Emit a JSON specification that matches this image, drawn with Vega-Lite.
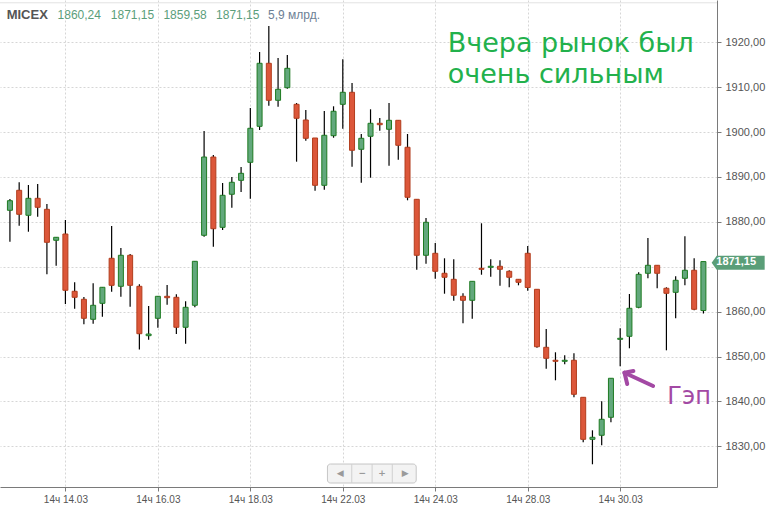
{
  "$schema": "https://vega.github.io/schema/vega-lite/v6.json",
  "autosize": "none",
  "width": 717,
  "height": 487,
  "padding": {"left": 0, "top": 0, "right": 53, "bottom": 20},
  "background": "white",
  "config": {"view": {"stroke": null}},
  "datasets": {
    "candles": [
      {"i":0,"o":1882.57,"h":1885.09,"l":1875.58,"c":1884.71},
      {"i":1,"o":1887.03,"h":1888.81,"l":1879.14,"c":1881.68},
      {"i":2,"o":1881.46,"h":1888.21,"l":1877.80,"c":1885.24},
      {"i":3,"o":1885.24,"h":1888.43,"l":1881.15,"c":1883.24},
      {"i":4,"o":1882.79,"h":1883.97,"l":1868.31,"c":1875.44},
      {"i":5,"o":1875.89,"h":1876.63,"l":1870.23,"c":1876.56},
      {"i":6,"o":1877.29,"h":1880.41,"l":1861.70,"c":1864.75},
      {"i":7,"o":1864.53,"h":1866.53,"l":1860.65,"c":1863.19},
      {"i":8,"o":1862.75,"h":1863.26,"l":1857.17,"c":1858.51},
      {"i":9,"o":1858.29,"h":1866.31,"l":1857.31,"c":1861.41},
      {"i":10,"o":1861.85,"h":1865.49,"l":1858.87,"c":1865.42},
      {"i":11,"o":1871.88,"h":1879.07,"l":1864.44,"c":1865.86},
      {"i":12,"o":1865.64,"h":1874.17,"l":1863.32,"c":1872.55},
      {"i":13,"o":1872.55,"h":1872.84,"l":1861.10,"c":1865.86},
      {"i":14,"o":1865.64,"h":1866.09,"l":1851.56,"c":1855.08},
      {"i":15,"o":1854.64,"h":1861.25,"l":1853.75,"c":1855.01},
      {"i":16,"o":1858.51,"h":1863.48,"l":1856.42,"c":1863.41},
      {"i":17,"o":1863.41,"h":1865.93,"l":1861.54,"c":1863.10},
      {"i":18,"o":1863.19,"h":1863.86,"l":1855.01,"c":1856.51},
      {"i":19,"o":1856.51,"h":1862.30,"l":1852.85,"c":1860.96},
      {"i":20,"o":1861.41,"h":1871.28,"l":1860.96,"c":1871.21},
      {"i":21,"o":1877.00,"h":1900.24,"l":1876.69,"c":1894.44},
      {"i":22,"o":1894.44,"h":1894.89,"l":1874.46,"c":1878.47},
      {"i":23,"o":1878.78,"h":1888.65,"l":1878.18,"c":1885.91},
      {"i":24,"o":1886.14,"h":1889.99,"l":1883.15,"c":1888.81},
      {"i":25,"o":1889.25,"h":1892.22,"l":1886.65,"c":1890.81},
      {"i":26,"o":1893.26,"h":1905.36,"l":1885.16,"c":1900.84},
      {"i":27,"o":1901.28,"h":1917.84,"l":1900.46,"c":1915.32},
      {"i":28,"o":1915.32,"h":1923.63,"l":1905.87,"c":1907.08},
      {"i":29,"o":1907.08,"h":1916.50,"l":1905.65,"c":1909.53},
      {"i":30,"o":1909.88,"h":1917.17,"l":1909.66,"c":1914.20},
      {"i":31,"o":1906.18,"h":1906.47,"l":1893.40,"c":1903.07},
      {"i":32,"o":1902.69,"h":1904.92,"l":1898.08,"c":1898.61},
      {"i":33,"o":1898.68,"h":1898.68,"l":1886.94,"c":1888.14},
      {"i":34,"o":1888.14,"h":1904.69,"l":1887.16,"c":1899.28},
      {"i":35,"o":1899.19,"h":1905.74,"l":1898.74,"c":1904.63},
      {"i":36,"o":1906.18,"h":1916.21,"l":1900.75,"c":1908.86},
      {"i":37,"o":1908.86,"h":1910.93,"l":1892.28,"c":1895.94},
      {"i":38,"o":1896.16,"h":1899.57,"l":1888.72,"c":1898.61},
      {"i":39,"o":1899.06,"h":1905.07,"l":1889.83,"c":1901.95},
      {"i":40,"o":1901.95,"h":1903.13,"l":1900.30,"c":1901.64},
      {"i":41,"o":1900.62,"h":1906.47,"l":1892.51,"c":1902.62},
      {"i":42,"o":1902.62,"h":1902.62,"l":1893.84,"c":1897.05},
      {"i":43,"o":1896.61,"h":1899.57,"l":1884.80,"c":1885.47},
      {"i":44,"o":1885.02,"h":1885.02,"l":1869.34,"c":1872.55},
      {"i":45,"o":1872.55,"h":1880.86,"l":1870.68,"c":1879.90},
      {"i":46,"o":1872.99,"h":1875.29,"l":1867.33,"c":1868.98},
      {"i":47,"o":1868.54,"h":1871.88,"l":1863.99,"c":1867.65},
      {"i":48,"o":1867.20,"h":1871.66,"l":1862.43,"c":1863.64},
      {"i":49,"o":1863.41,"h":1864.08,"l":1857.40,"c":1862.52},
      {"i":50,"o":1862.52,"h":1866.75,"l":1858.42,"c":1866.75},
      {"i":51,"o":1869.65,"h":1879.68,"l":1868.22,"c":1869.43},
      {"i":52,"o":1869.87,"h":1871.66,"l":1867.78,"c":1870.10},
      {"i":53,"o":1870.10,"h":1871.43,"l":1865.77,"c":1869.43},
      {"i":54,"o":1868.98,"h":1869.21,"l":1865.42,"c":1867.65},
      {"i":55,"o":1867.20,"h":1867.20,"l":1865.86,"c":1866.53},
      {"i":56,"o":1872.99,"h":1874.62,"l":1864.66,"c":1865.37},
      {"i":57,"o":1864.97,"h":1864.97,"l":1851.96,"c":1852.18},
      {"i":58,"o":1852.05,"h":1856.13,"l":1847.28,"c":1849.60},
      {"i":59,"o":1849.16,"h":1850.94,"l":1844.70,"c":1848.93},
      {"i":60,"o":1848.93,"h":1850.27,"l":1848.26,"c":1849.16},
      {"i":61,"o":1849.16,"h":1850.72,"l":1840.91,"c":1841.58},
      {"i":62,"o":1840.91,"h":1840.91,"l":1830.89,"c":1831.55},
      {"i":63,"o":1831.55,"h":1833.56,"l":1825.99,"c":1832.00},
      {"i":64,"o":1832.45,"h":1840.02,"l":1830.22,"c":1836.01},
      {"i":65,"o":1836.46,"h":1845.15,"l":1835.34,"c":1845.15},
      {"i":66,"o":1853.83,"h":1856.28,"l":1847.82,"c":1854.06},
      {"i":67,"o":1854.50,"h":1863.93,"l":1851.83,"c":1860.74},
      {"i":68,"o":1860.96,"h":1868.76,"l":1860.74,"c":1868.31},
      {"i":69,"o":1868.54,"h":1876.40,"l":1867.42,"c":1870.32},
      {"i":70,"o":1870.32,"h":1870.32,"l":1865.20,"c":1868.54},
      {"i":71,"o":1865.20,"h":1865.42,"l":1851.38,"c":1864.08},
      {"i":72,"o":1864.30,"h":1867.87,"l":1858.51,"c":1866.98},
      {"i":73,"o":1867.42,"h":1876.78,"l":1865.86,"c":1869.21},
      {"i":74,"o":1869.21,"h":1871.88,"l":1860.29,"c":1860.52},
      {"i":75,"o":1860.24,"h":1871.15,"l":1859.58,"c":1871.15}
    ]
  },
  "layer": [
    {
      "data": {"name": "candles"},
      "mark": {"type": "rule", "color": "#000000", "strokeWidth": 1.2},
      "encoding": {
        "x": {
          "field": "i", "type": "quantitative",
          "scale": {"domain": [-0.533, 75.93], "nice": false, "zero": false},
          "axis": {
            "orient": "bottom", "title": null,
            "values": [6, 16, 26, 36, 46, 56, 66],
            "labelExpr": "['14ч 14.03','14ч 16.03','14ч 18.03','14ч 22.03','14ч 24.03','14ч 28.03','14ч 30.03'][round((datum.value-6)/10)]",
            "labelFont": "Liberation Sans", "labelFontSize": 10, "labelColor": "#555555",
            "labelPadding": 3, "tickSize": 4, "tickColor": "#7a7a7a", "domainColor": "#7a7a7a",
            "grid": true, "gridColor": "#d6d6d6", "gridDash": [2, 2], "labelFlush": false
          }
        },
        "y": {
          "field": "l", "type": "quantitative",
          "scale": {"domain": [1820.93, 1929.42], "nice": false, "zero": false},
          "axis": {
            "orient": "right", "title": null,
            "values": [1830, 1840, 1850, 1860, 1870, 1880, 1890, 1900, 1910, 1920],
            "labelExpr": "datum.value == 1870 ? '' : replace(format(datum.value, '.2f'), '.', ',')",
            "labelFont": "Liberation Sans", "labelFontSize": 11, "labelColor": "#555555",
            "labelPadding": 4, "tickSize": 4, "tickColor": "#7a7a7a", "domainColor": "#7a7a7a",
            "grid": true, "gridColor": "#d6d6d6", "gridDash": [2, 2], "labelFlush": false
          }
        },
        "y2": {"field": "h"}
      }
    },
    {
      "data": {"values": [{"v": 1928.8}]},
      "mark": {"type": "rule", "color": "#e2e2e2", "strokeWidth": 1},
      "encoding": {
        "y": {"field": "v", "type": "quantitative", "scale": {"domain": [1820.93, 1929.42], "nice": false, "zero": false}, "axis": {"title": null}}
      }
    },
    {
      "data": {"name": "candles"},
      "mark": {"type": "bar", "size": 5, "strokeWidth": 1},
      "encoding": {
        "x": {"field": "i", "type": "quantitative", "scale": {"domain": [-0.533, 75.93], "nice": false, "zero": false}, "axis": {"title": null}},
        "y": {"field": "o", "type": "quantitative", "scale": {"domain": [1820.93, 1929.42], "nice": false, "zero": false}, "axis": {"title": null}},
        "y2": {"field": "c"},
        "fill": {"condition": {"test": "datum.c >= datum.o", "value": "#62a87c"}, "value": "#dc573a"},
        "stroke": {"condition": {"test": "datum.c >= datum.o", "value": "#1e7b22"}, "value": "#b23d1d"}
      }
    },
    {
      "data": {"values": [
        {"i": 47.35, "v": 1917.9, "t": "Вчера рынок был"},
        {"i": 47.35, "v": 1910.86, "t": "очень сильным"}
      ]},
      "mark": {"type": "text", "align": "left", "baseline": "alphabetic", "font": "DejaVu Sans", "fontSize": 27, "color": "#22b14c"},
      "encoding": {
        "x": {"field": "i", "type": "quantitative", "scale": {"domain": [-0.533, 75.93], "nice": false, "zero": false}, "axis": {"title": null}},
        "y": {"field": "v", "type": "quantitative", "scale": {"domain": [1820.93, 1929.42], "nice": false, "zero": false}, "axis": {"title": null}},
        "text": {"field": "t"}
      }
    },
    {
      "data": {"values": [{"i": 71.1, "v": 1839.42, "t": "Гэп"}]},
      "mark": {"type": "text", "align": "left", "baseline": "alphabetic", "font": "DejaVu Sans", "fontSize": 24, "color": "#a349a4"},
      "encoding": {
        "x": {"field": "i", "type": "quantitative", "scale": {"domain": [-0.533, 75.93], "nice": false, "zero": false}, "axis": {"title": null}},
        "y": {"field": "v", "type": "quantitative", "scale": {"domain": [1820.93, 1929.42], "nice": false, "zero": false}, "axis": {"title": null}},
        "text": {"field": "t"}
      }
    },
    {
      "data": {"values": [
        {"g": "shaft", "k": 0, "i": 69.56, "v": 1843.43},
        {"g": "shaft", "k": 1, "i": 66.47, "v": 1846.39},
        {"g": "arm1", "k": 0, "i": 66.47, "v": 1846.39},
        {"g": "arm1", "k": 1, "i": 67.43, "v": 1846.77},
        {"g": "arm2", "k": 0, "i": 66.47, "v": 1846.39},
        {"g": "arm2", "k": 1, "i": 66.76, "v": 1843.88}
      ]},
      "mark": {"type": "line", "color": "#a349a4", "strokeWidth": 4, "strokeCap": "round", "strokeJoin": "round"},
      "encoding": {
        "x": {"field": "i", "type": "quantitative", "scale": {"domain": [-0.533, 75.93], "nice": false, "zero": false}, "axis": {"title": null}},
        "y": {"field": "v", "type": "quantitative", "scale": {"domain": [1820.93, 1929.42], "nice": false, "zero": false}, "axis": {"title": null}},
        "detail": {"field": "g"},
        "order": {"field": "k"}
      }
    },
    {
      "data": {"values": [{"i": -0.352, "v": 1925.08, "t": "MICEX"}]},
      "mark": {"type": "text", "align": "left", "baseline": "alphabetic", "font": "Liberation Sans", "fontSize": 13, "fontWeight": "bold", "color": "#555555"},
      "encoding": {
        "x": {"field": "i", "type": "quantitative", "scale": {"domain": [-0.533, 75.93], "nice": false, "zero": false}, "axis": {"title": null}},
        "y": {"field": "v", "type": "quantitative", "scale": {"domain": [1820.93, 1929.42], "nice": false, "zero": false}, "axis": {"title": null}},
        "text": {"field": "t"}
      }
    },
    {
      "data": {"values": [
        {"i": 5.15, "v": 1925.08, "t": "1860,24"},
        {"i": 10.91, "v": 1925.08, "t": "1871,15"},
        {"i": 16.6, "v": 1925.08, "t": "1859,58"},
        {"i": 22.29, "v": 1925.08, "t": "1871,15"}
      ]},
      "mark": {"type": "text", "align": "left", "baseline": "alphabetic", "font": "Liberation Sans Narrow, Liberation Sans", "fontSize": 12, "color": "#5b9e7b"},
      "encoding": {
        "x": {"field": "i", "type": "quantitative", "scale": {"domain": [-0.533, 75.93], "nice": false, "zero": false}, "axis": {"title": null}},
        "y": {"field": "v", "type": "quantitative", "scale": {"domain": [1820.93, 1929.42], "nice": false, "zero": false}, "axis": {"title": null}},
        "text": {"field": "t"}
      }
    },
    {
      "data": {"values": [{"i": 27.91, "v": 1925.08, "t": "5,9 млрд."}]},
      "mark": {"type": "text", "align": "left", "baseline": "alphabetic", "font": "Liberation Sans Narrow, Liberation Sans", "fontSize": 12, "color": "#6c7f95"},
      "encoding": {
        "x": {"field": "i", "type": "quantitative", "scale": {"domain": [-0.533, 75.93], "nice": false, "zero": false}, "axis": {"title": null}},
        "y": {"field": "v", "type": "quantitative", "scale": {"domain": [1820.93, 1929.42], "nice": false, "zero": false}, "axis": {"title": null}},
        "text": {"field": "t"}
      }
    },
    {
      "data": {"values": [{"i": 34.34, "i2": 43.94, "v": 1826.05, "v2": 1821.82}]},
      "mark": {"type": "rect", "fill": "#f3f3f3", "stroke": "#c6c6c6", "strokeWidth": 1, "cornerRadius": 3},
      "encoding": {
        "x": {"field": "i", "type": "quantitative", "scale": {"domain": [-0.533, 75.93], "nice": false, "zero": false}, "axis": {"title": null}},
        "x2": {"field": "i2"},
        "y": {"field": "v", "type": "quantitative", "scale": {"domain": [1820.93, 1929.42], "nice": false, "zero": false}, "axis": {"title": null}},
        "y2": {"field": "v2"}
      }
    },
    {
      "data": {"values": [
        {"i": 36.97, "v": 1826.05, "v2": 1821.82},
        {"i": 39.17, "v": 1826.05, "v2": 1821.82},
        {"i": 41.35, "v": 1826.05, "v2": 1821.82}
      ]},
      "mark": {"type": "rule", "color": "#d0d0d0", "strokeWidth": 1},
      "encoding": {
        "x": {"field": "i", "type": "quantitative", "scale": {"domain": [-0.533, 75.93], "nice": false, "zero": false}, "axis": {"title": null}},
        "y": {"field": "v", "type": "quantitative", "scale": {"domain": [1820.93, 1929.42], "nice": false, "zero": false}, "axis": {"title": null}},
        "y2": {"field": "v2"}
      }
    },
    {
      "data": {"values": [
        {"i": 35.73, "v": 1823.94, "t": "◀"},
        {"i": 38.1, "v": 1823.94, "t": "−"},
        {"i": 40.24, "v": 1823.94, "t": "+"},
        {"i": 42.76, "v": 1823.94, "t": "▶"}
      ]},
      "mark": {"type": "text", "align": "center", "baseline": "middle", "font": "DejaVu Sans", "fontSize": 9, "fontWeight": "bold", "color": "#9a9a9a"},
      "encoding": {
        "x": {"field": "i", "type": "quantitative", "scale": {"domain": [-0.533, 75.93], "nice": false, "zero": false}, "axis": {"title": null}},
        "y": {"field": "v", "type": "quantitative", "scale": {"domain": [1820.93, 1929.42], "nice": false, "zero": false}, "axis": {"title": null}},
        "text": {"field": "t"}
      }
    },
    {
      "data": {"values": [{"i": 78.76, "v": 1870.9}]},
      "mark": {"type": "point", "filled": true, "opacity": 1, "size": 2809, "color": "#5a9e78", "strokeWidth": 0,
               "shape": "M -1 0 L -0.81 -0.264 L 1 -0.264 L 1 0.264 L -0.81 0.264 Z"},
      "encoding": {
        "x": {"field": "i", "type": "quantitative", "scale": {"domain": [-0.533, 75.93], "nice": false, "zero": false}, "axis": {"title": null}},
        "y": {"field": "v", "type": "quantitative", "scale": {"domain": [1820.93, 1929.42], "nice": false, "zero": false}, "axis": {"title": null}}
      }
    },
    {
      "data": {"values": [{"i": 78.54, "v": 1870.95, "t": "1871,15"}]},
      "mark": {"type": "text", "align": "center", "baseline": "middle", "font": "Liberation Sans", "fontSize": 11, "fontWeight": "bold", "color": "#ffffff"},
      "encoding": {
        "x": {"field": "i", "type": "quantitative", "scale": {"domain": [-0.533, 75.93], "nice": false, "zero": false}, "axis": {"title": null}},
        "y": {"field": "v", "type": "quantitative", "scale": {"domain": [1820.93, 1929.42], "nice": false, "zero": false}, "axis": {"title": null}},
        "text": {"field": "t"}
      }
    }
  ]
}
